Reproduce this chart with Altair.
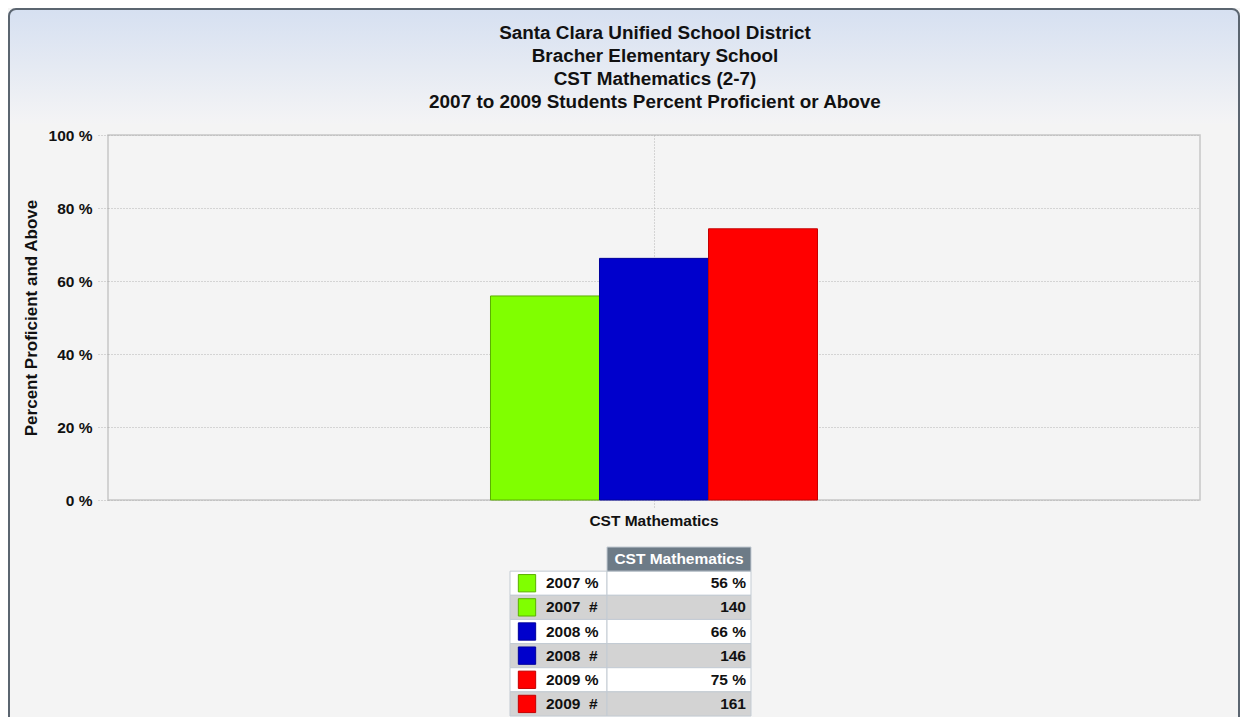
import altair as alt
import pandas as pd

FONT = "Liberation Sans"

# ---------------- data ----------------
title_lines = [
    "Santa Clara Unified School District",
    "Bracher Elementary School",
    "CST Mathematics (2-7)",
    "2007 to 2009 Students Percent Proficient or Above",
]
subjects = ["CST Mathematics", "CST Mathematics", "CST Mathematics"]
years = ["2007", "2008", "2009"]
bar_pct = [55.9, 66.2, 74.3]
y_ticks = [0, 20, 40, 60, 80, 100]

table_header = ["CST Mathematics"]
table_rows = ["0", "1", "2", "3", "4", "5"]
table_labels = ["2007 %", "2007\u00a0 #", "2008 %", "2008\u00a0 #", "2009 %", "2009\u00a0 #"]
table_values = ["56 %", "140", "66 %", "146", "75 %", "161"]
table_years = ["2007", "2007", "2008", "2008", "2009", "2009"]

# ---------------- styles ----------------
year_colors = ["#80ff00", "#0000cc", "#ff0000"]
year_edges = ["#5cb000", "#00009c", "#c40000"]
row_fills = ["#ffffff", "#d3d3d3", "#ffffff", "#d3d3d3", "#ffffff", "#d3d3d3"]
GRID = "#b4b4b4"

W, H = 1092, 365

bars_df = pd.DataFrame({"subject": subjects, "year": years, "pct": bar_pct})
tbl_df = pd.DataFrame({"row": table_rows, "label": table_labels, "value": table_values,
                       "year": table_years, "bg": row_fills})
hdr_df = pd.DataFrame({"row": ["hdr"], "text": table_header})
one = pd.DataFrame({"k": [0]})

# ---------------- decorations ----------------
grad = alt.Chart(one).mark_rect(
    fill=alt.LinearGradient(gradient="linear", x1=0, x2=0, y1=0, y2=1,
                            stops=[alt.GradientStop(color="#d6e0f1", offset=0),
                                   alt.GradientStop(color="#f4f4f5", offset=1)]),
    cornerRadiusTopLeft=7, cornerRadiusTopRight=7,
).encode(x=alt.value(-100), x2=alt.value(1131), y=alt.value(-126), y2=alt.value(-11))

border = alt.Chart(one).mark_rect(
    fill="transparent", stroke="#5b6570", strokeWidth=2, cornerRadius=7,
).encode(x=alt.value(-99), x2=alt.value(1131), y=alt.value(-126), y2=alt.value(640))

title = alt.Chart(one).mark_text(
    text=title_lines, font=FONT, fontSize=18.9, fontWeight="bold", color="#111111",
    align="center", baseline="alphabetic", lineHeight=23,
).encode(x=alt.value(547), y=alt.value(-96.5))

# ---------------- bars ----------------
bars = alt.Chart(bars_df).mark_bar(strokeWidth=1).encode(
    x=alt.X("subject:N",
            scale=alt.Scale(paddingInner=0.145, paddingOuter=1),
            axis=alt.Axis(title=None, labelFontSize=15.5, labelFontWeight="bold",
                          labelAngle=0, labelColor="#111111", labelFont=FONT,
                          grid=True, gridDash=[1, 2], gridColor=GRID,
                          tickDash=[1, 2], tickColor=GRID, tickSize=8,
                          labelPadding=5, domain=False)),
    xOffset=alt.XOffset("year:N", scale=alt.Scale(paddingInner=0, paddingOuter=0)),
    y=alt.Y("pct:Q", scale=alt.Scale(domain=[0, 100], nice=False),
            axis=alt.Axis(values=y_ticks, labelExpr="datum.value + ' %'",
                          title="Percent Proficient and Above", titleFontSize=17,
                          titleFontWeight="bold", titleColor="#111111", titleFont=FONT,
                          titlePadding=8,
                          labelFontSize=15.5, labelFontWeight="bold", labelColor="#111111",
                          labelFont=FONT, grid=True, gridDash=[1, 2], gridColor=GRID,
                          tickDash=[1, 2], tickColor=GRID, tickSize=10,
                          labelPadding=6, domain=False)),
    fill=alt.Fill("year:N", scale=alt.Scale(domain=years, range=year_colors), legend=None),
    stroke=alt.Stroke("year:N", scale=alt.Scale(domain=years, range=year_edges), legend=None),
)

main = alt.layer(grad, border, title, bars)

# ---------------- data table ----------------
tx = alt.Scale(domain=[0, 241], range=[402, 643], nice=False, zero=False)
ty = alt.Scale(domain=["hdr"] + table_rows, range=[412, 581], paddingInner=0, paddingOuter=0)
Y = alt.Y("row:N", scale=ty, axis=None)
CELL_STROKE = "#c3cbd3"

left_cells = alt.Chart(tbl_df).mark_rect(stroke=CELL_STROKE, strokeWidth=1).encode(
    x=alt.X(datum=0, type="quantitative", scale=tx, axis=None), x2=alt.X2(datum=97),
    y=Y, fill=alt.Fill("bg:N", scale=None))
right_cells = alt.Chart(tbl_df).mark_rect(stroke=CELL_STROKE, strokeWidth=1).encode(
    x=alt.X(datum=97, type="quantitative", scale=tx, axis=None), x2=alt.X2(datum=241),
    y=Y, fill=alt.Fill("bg:N", scale=None))
swatches = alt.Chart(tbl_df).mark_square(size=300, opacity=1, strokeWidth=1).encode(
    x=alt.X(datum=17, type="quantitative", scale=tx, axis=None), y=Y,
    fill=alt.Fill("year:N", scale=alt.Scale(domain=years, range=year_colors), legend=None),
    stroke=alt.Stroke("year:N", scale=alt.Scale(domain=years, range=year_edges), legend=None))
labels = alt.Chart(tbl_df).mark_text(align="left", baseline="middle", font=FONT,
                                     fontSize=15.5, fontWeight="bold", color="#111111").encode(
    x=alt.X(datum=36, type="quantitative", scale=tx, axis=None), y=Y, text="label:N")
values = alt.Chart(tbl_df).mark_text(align="right", baseline="middle", font=FONT,
                                     fontSize=15.5, fontWeight="bold", color="#111111").encode(
    x=alt.X(datum=236, type="quantitative", scale=tx, axis=None), y=Y, text="value:N")
hdr_cell = alt.Chart(hdr_df).mark_rect(fill="#6d7b87", stroke=CELL_STROKE, strokeWidth=1).encode(
    x=alt.X(datum=97, type="quantitative", scale=tx, axis=None), x2=alt.X2(datum=241), y=Y)
hdr_text = alt.Chart(hdr_df).mark_text(align="center", baseline="middle", font=FONT,
                                       fontSize=15.5, fontWeight="bold", color="#ffffff").encode(
    x=alt.X(datum=169, type="quantitative", scale=tx, axis=None), y=Y, text="text:N")

table = alt.layer(left_cells, right_cells, hdr_cell, swatches, labels, values, hdr_text)

chart = alt.layer(main, table).resolve_scale(
    x="independent", y="independent", fill="independent", stroke="independent"
).properties(
    width=W, height=H,
    autosize=alt.AutoSizeParams(type="none"),
    padding={"left": 100, "top": 127, "right": 40, "bottom": 217},
).configure(background="#f4f4f4").configure_view(
    fill="#f4f4f4", stroke="#c6c6c6", strokeWidth=1.5
)

chart.save("out.html", embed_options={"renderer": "svg", "actions": False})
